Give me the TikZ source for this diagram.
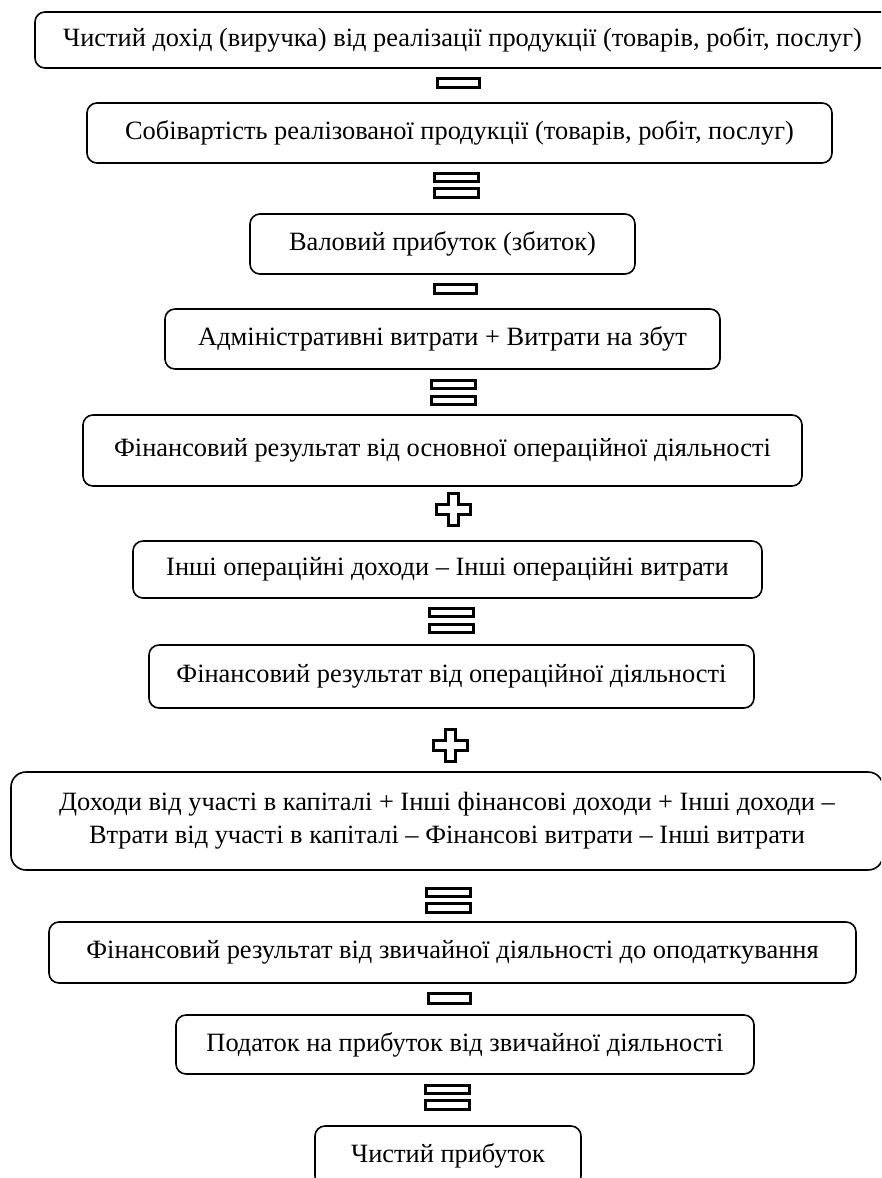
\documentclass[tikz,border=0pt]{standalone}
\usepackage{fontspec}
\setmainfont{Liberation Serif}
\begin{document}
\begin{tikzpicture}[x=1pt,y=-1pt,
  stage/.style={draw, line width=1.6pt, rounded corners=10pt, align=center,
    inner sep=0pt, font=\fontsize{26.4}{33}\selectfont},
  sign/.style={draw, line width=3pt},
  minussign/.pic={\draw[sign] (-21,-4.8) rectangle (21,4.8);},
  equalsign/.pic={\draw[sign] (-22,-12) rectangle (22,-3.6);
                  \draw[sign] (-22,3.6) rectangle (22,12);},
  plussign/.pic={\draw[sign] (-5,-16) -- (5,-16) -- (5,-4.6) -- (17,-4.6)
     -- (17,4.6) -- (5,4.6) -- (5,16) -- (-5,16) -- (-5,4.6)
     -- (-17,4.6) -- (-17,-4.6) -- (-5,-4.6) -- cycle;}
]
\useasboundingbox (0,0) rectangle (881,1178);
\clip (0,0) rectangle (881,1178);

% calculation stages
\node[stage, minimum width=865pt, minimum height=56pt] (revenue) at (467.5,40)
  {\hspace*{-10pt}Чистий дохід (виручка) від реалізації продукції (товарів, робіт, послуг)};
\node[stage, minimum width=745pt, minimum height=60pt] (cost) at (459.5,133)
  {Собівартість реалізованої продукції (товарів, робіт, послуг)};
\node[stage, minimum width=385pt, minimum height=60pt] (gross) at (442.5,244)
  {Валовий прибуток (збиток)};
\node[stage, minimum width=555pt, minimum height=60pt] (admin) at (442.5,339)
  {Адміністративні витрати + Витрати на збут};
\node[stage, minimum width=719pt, minimum height=71pt] (core) at (442.5,450.5)
  {\raisebox{4pt}{Фінансовий результат від основної операційної діяльності}};
\node[stage, minimum width=629pt, minimum height=57pt] (otherop) at (447.5,569.5)
  {Інші операційні доходи – Інші операційні витрати};
\node[stage, minimum width=605pt, minimum height=63pt] (operating) at (451.5,676.5)
  {Фінансовий результат від операційної діяльності};
\node[stage, rounded corners=15pt, minimum width=872pt, minimum height=98pt] (financial) at (447,821)
  {Доходи від участі в капіталі + Інші фінансові доходи + Інші доходи –\\
   Втрати від участі в капіталі – Фінансові витрати – Інші витрати};
\node[stage, minimum width=807pt, minimum height=61pt] (pretax) at (452.5,952.5)
  {Фінансовий результат від звичайної діяльності до оподаткування};
\node[stage, minimum width=578pt, minimum height=59pt] (tax) at (465,1044.5)
  {Податок на прибуток від звичайної діяльності};
\node[stage, minimum width=266pt, minimum height=60pt] (net) at (448,1156)
  {Чистий прибуток};

% arithmetic operators between stages
\pic at (458.5,83) {minussign};
\pic at (456.5,185) {equalsign};
\pic at (455,289) {minussign};
\pic at (453,392.5) {equalsign};
\pic at (453.5,509.5) {plussign};
\pic at (451.5,620.5) {equalsign};
\pic at (450,745.5) {plussign};
\pic at (448.5,900) {equalsign};
\pic at (449,998.5) {minussign};
\pic at (447,1097) {equalsign};
\end{tikzpicture}
\end{document}
